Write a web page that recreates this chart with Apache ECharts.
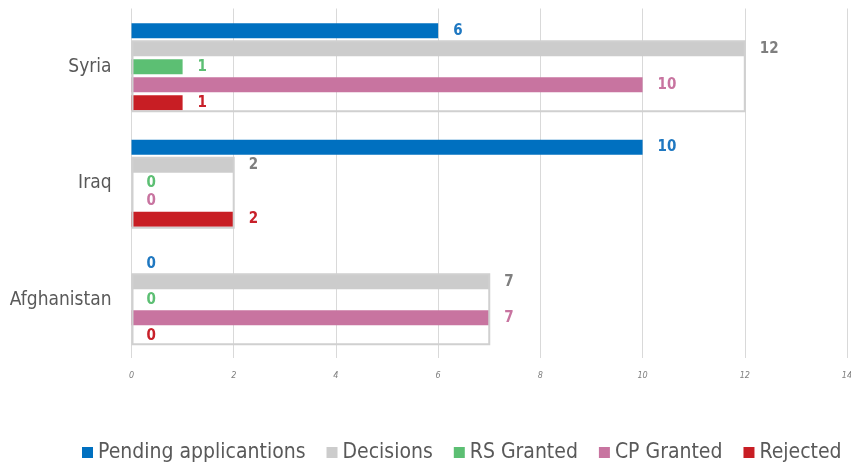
<!DOCTYPE html>
<html>
<head>
<meta charset="utf-8">
<script src="https://cdn.jsdelivr.net/npm/echarts@6/dist/echarts.min.js"></script>
<style>
  html, body { margin: 0; padding: 0; background: #fff; }
  #main { width: 851px; height: 466px; }
</style>
</head>
<body>
<div id="main"></div>
<script>
// countries, top to bottom
var countries = ['Syria', 'Iraq', 'Afghanistan'];
var seriesNames = ['Pending applicantions', 'Decisions', 'RS Granted', 'CP Granted', 'Rejected'];
var pending = [6, 10, 0];
var decisions = [12, 2, 7];
var rsGranted = [1, 0, 0];
var cpGranted = [10, 0, 7];
var rejected = [1, 2, 0];
var xTicks = [0, 2, 4, 6, 8, 10, 12, 14];

var barColors = ['#0070c0', '#cccccc', '#5cbf73', '#c874a0', '#c81e24'];
var labelColors = ['#1f78c1', '#7f7f7f', '#5cbf73', '#c874a0', '#c8202a'];
var FONT = "'Liberation Sans Narrow', 'DejaVu Sans Condensed', sans-serif";
var BAR_W = 15, BAR_PITCH = 18;

var allValues = [pending, decisions, rsGranted, cpGranted, rejected];

function barSeries(i) {
  return {
    name: seriesNames[i],
    type: 'bar',
    data: allValues[i],
    barWidth: BAR_W,
    barGap: '20%',
    itemStyle: { color: barColors[i] },
    label: {
      show: true,
      position: 'right',
      distance: 15,
      color: labelColors[i],
      fontFamily: FONT,
      fontSize: 15,
      fontWeight: 'bold'
    },
    z: 2
  };
}

// outline box that Decisions draws round the granted / rejected bars
function renderBox(params, api) {
  var val = api.value(0);
  var cat = api.value(1);
  var p0 = api.coord([0, cat]);
  var p1 = api.coord([val, cat]);
  var top = p0[1] - BAR_PITCH - BAR_W / 2;
  var bottom = p0[1] + 2 * BAR_PITCH + BAR_W / 2 + 1;
  return {
    type: 'rect',
    shape: { x: p0[0] + 1, y: top, width: p1[0] - p0[0] - 1, height: bottom - top },
    style: { fill: 'none', stroke: '#d0d0d0', lineWidth: 2 }
  };
}

var boxData = [];
for (var k = 0; k < countries.length; k++) {
  boxData.push([decisions[k], k]);
}

var series = [];
for (var i = 0; i < seriesNames.length; i++) series.push(barSeries(i));
series.push({
  name: 'box',
  type: 'custom',
  renderItem: renderBox,
  encode: { x: 0, y: 1 },
  data: boxData,
  silent: true,
  z: 3
});

var myChart = echarts.init(document.getElementById('main'));
var option = {
  animation: false,
  grid: { left: 131.5, right: 4, top: 8.5, bottom: 108, outerBoundsMode: 'none' },
  legend: {
    data: seriesNames,
    left: 82,
    top: 442,
    width: 769,
    padding: 0,
    itemWidth: 11,
    itemHeight: 11,
    itemGap: 21,
    icon: 'rect',
    textStyle: { color: '#595959', fontFamily: FONT, fontSize: 21 }
  },
  xAxis: {
    type: 'value',
    min: xTicks[0],
    max: xTicks[xTicks.length - 1],
    interval: 2,
    axisLine: { show: false },
    axisTick: { show: false },
    splitLine: { show: true, lineStyle: { color: '#d9d9d9', width: 1 } },
    axisLabel: {
      color: '#808080',
      fontFamily: FONT,
      fontSize: 9,
      fontStyle: 'italic',
      margin: 13
    }
  },
  yAxis: {
    type: 'category',
    data: countries,
    inverse: true,
    axisLine: { show: false },
    axisTick: { show: false },
    axisLabel: { color: '#595959', fontFamily: FONT, fontSize: 19, margin: 20 }
  },
  series: series
};
myChart.setOption(option);
</script>
</body>
</html>
